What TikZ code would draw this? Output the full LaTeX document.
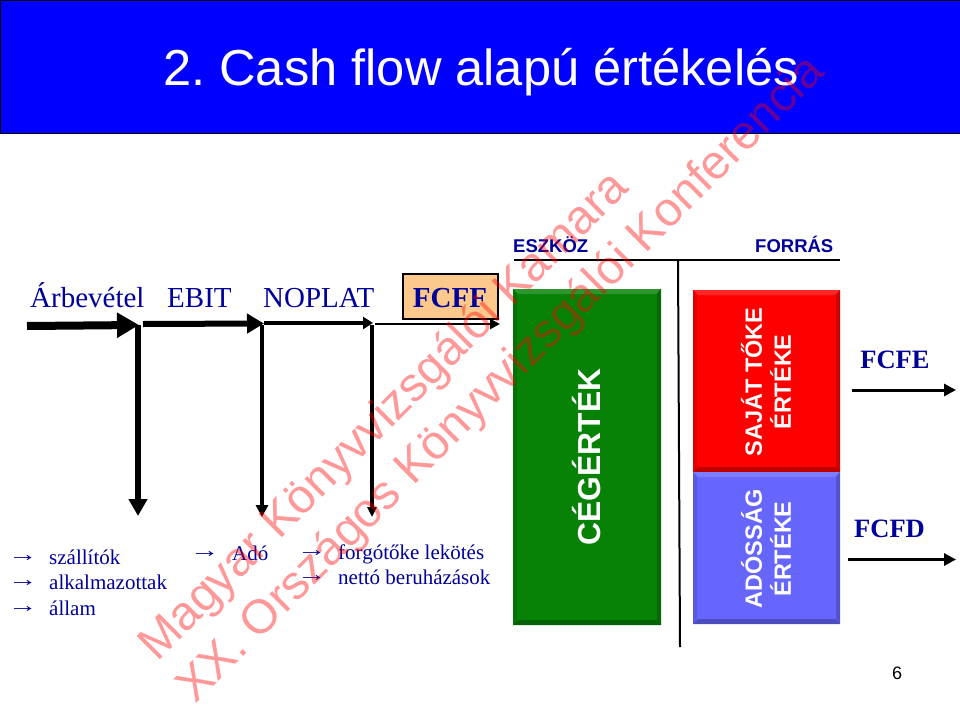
\documentclass[tikz,border=0pt]{standalone}
\usepackage{graphicx}
\usepackage{fontspec}
\frenchspacing
\setmainfont{Liberation Serif}
\setsansfont{Liberation Sans}
\usetikzlibrary{arrows.meta}
\definecolor{navy}{HTML}{000099}
\definecolor{peach}{HTML}{FCC88C}
\definecolor{gr}{HTML}{078207}
\definecolor{bl}{HTML}{6666FF}
\definecolor{rd}{HTML}{FF0000}
\newcommand{\rarr}{\raisebox{3pt}{\scalebox{1.4}[1]{→}}}
\tikzset{
  lab/.style={anchor=base west,text=navy,inner sep=0pt,font=\fontsize{29}{31}\selectfont},
  bfl/.style={anchor=center,text=navy,inner sep=0pt,font=\fontsize{26.5}{28}\selectfont\bfseries},
  item/.style={anchor=base west,text=navy,inner sep=0pt,font=\fontsize{21}{24}\selectfont},
  head/.style={anchor=base west,text=navy,inner sep=0pt,font=\sffamily\bfseries\fontsize{18.5}{20}\selectfont},
  vert/.style={rotate=90,anchor=center,align=center,text=white,inner sep=0pt,font=\sffamily\bfseries\fontsize{23.5}{29}\selectfont},
  wm/.style={rotate=45,anchor=base west,inner sep=0pt,text=red,text opacity=.4,font=\sffamily\fontsize{47.8}{50}\selectfont},
  flow/.style={draw=black,line cap=butt}
}
\newcommand{\bevelbox}[6]{% x1 y1 x2 y2 fill name
  \fill[#5] (#1,#2) rectangle (#3,#4);
  \fill[#5!85!white] (#1,#2) -- (#3,#2) -- (#3-5,#2+5) -- (#1+5,#2+5) -- cycle;
  \fill[#5!75!black] (#1,#4) -- (#3,#4) -- (#3-5,#4-5) -- (#1+5,#4-5) -- cycle;
  \fill[#5!88!black] (#1,#2) -- (#1+4,#2+5) -- (#1+4,#4-5) -- (#1,#4) -- cycle;
  \fill[#5!80!black] (#3,#2) -- (#3-4,#2+5) -- (#3-4,#4-5) -- (#3,#4) -- cycle;
  \coordinate (#6) at ({(#1+#3)/2},{(#2+#4)/2});
}
\begin{document}
\begin{tikzpicture}[x=1pt,y=-1pt]
\useasboundingbox (0,0) rectangle (960,709);
\fill[white] (0,0) rectangle (960,709);
% title band
\node[draw=black,line width=.8pt,fill=blue,minimum width=960pt,minimum height=133pt,inner sep=0pt,anchor=north west] (band) at (0,0) {};
\node[anchor=base west,text=white,inner sep=0pt,font=\sffamily\fontsize{50.6}{52}\selectfont] (title) at (163,85) {2. Cash flow alapú értékelés};
% flow labels
\node[lab] (arb) at (30,307) {Árbevétel};
\node[lab] (ebit) at (167,307) {EBIT};
\node[lab] (nop) at (263,307) {NOPLAT};
\node[draw=black,line width=1.2pt,fill=peach,minimum width=95pt,minimum height=45pt,inner sep=0pt] (fcffbox) at (450.5,296.5) {};
\node[bfl,font=\fontsize{29}{31}\selectfont\bfseries] (fcff) at (450,298) {FCFF};
% flow coordinates
\coordinate (a0) at (27,326);
\coordinate (a1) at (139,325);
\coordinate (b0) at (143,324);
\coordinate (b1) at (264,323.5);
\coordinate (c0) at (264,323);
\coordinate (c1) at (373,323);
\coordinate (d0) at (375,324);
\coordinate (d1) at (500,324);
\coordinate (e0) at (138,325);
\coordinate (e1) at (138,516);
\coordinate (f0) at (262,325);
\coordinate (f1) at (262,517);
\coordinate (g0) at (372,325);
\coordinate (g1) at (372,517);
\draw[flow,line width=8pt,-{Triangle[length=22pt,width=24pt]}] (a0) -- (a1);
\draw[flow,line width=6pt,-{Triangle[length=17pt,width=19pt]}] (b0) -- (b1);
\draw[flow,line width=4pt,-{Triangle[length=10pt,width=12pt]}] (c0) -- (c1);
\draw[flow,line width=2.5pt,-{Triangle[length=10pt,width=10pt]}] (d0) -- (d1);
\draw[flow,line width=5.5pt,-{Triangle[length=17pt,width=18pt]}] (e0) -- (e1);
\draw[flow,line width=4.5pt,-{Triangle[length=12pt,width=12pt]}] (f0) -- (f1);
\draw[flow,line width=3.5pt,-{Triangle[length=10pt,width=9pt]}] (g0) -- (g1);
% lists
\node[item] (ar1) at (8,564) {\rarr};
\node[item] (t1) at (49,564) {szállítók};
\node[item] (ar2) at (8,589) {\rarr};
\node[item] (t2) at (49,589) {alkalmazottak};
\node[item] (ar3) at (8,615) {\rarr};
\node[item] (t3) at (49,615) {állam};
\node[item] (ar4) at (190,560) {\rarr};
\node[item] (t4) at (232,560) {Adó};
\node[item] (ar5) at (297,559) {\rarr};
\node[item] (t5) at (338,559) {forgótőke lekötés};
\node[item] (ar6) at (297,584) {\rarr};
\node[item] (t6) at (338,584) {nettó beruházások};
% balance sheet
\node[head] (esz) at (513,252) {ESZKÖZ};
\node[head] (forr) at (755,252) {FORRÁS};
\coordinate (tl) at (514,260);
\coordinate (tr) at (840,260);
\coordinate (vt) at (678,260);
\coordinate (vb) at (680,647);
\draw[line width=1.8pt] (tl) -- (tr);
\draw[line width=2pt] (vt) -- (vb);
\bevelbox{513}{289}{661}{625}{gr}{gc}
\bevelbox{693}{290}{840}{472}{rd}{rc}
\bevelbox{693}{472}{840}{624}{bl}{bc}
\node[vert,font=\sffamily\bfseries\fontsize{31.8}{33}\selectfont] (ceg) at (587,457) {CÉGÉRTÉK};
\node[vert] (saj) at (766,382) {SAJÁT TŐKE\\ÉRTÉKE};
\node[vert] (ado) at (766,549) {ADÓSSÁG\\ÉRTÉKE};
% right labels
\node[bfl] (fcfe) at (895,360) {FCFE};
\node[bfl] (fcfd) at (889.5,529) {FCFD};
\coordinate (h0) at (852,390);
\coordinate (h1) at (956,390);
\coordinate (k0) at (848,559.5);
\coordinate (k1) at (956,559.5);
\draw[flow,line width=3pt,-{Triangle[length=12pt,width=12pt]}] (h0) -- (h1);
\draw[flow,line width=3pt,-{Triangle[length=12pt,width=12pt]}] (k0) -- (k1);
\node[inner sep=0pt,anchor=base,font=\sffamily\fontsize{18}{20}\selectfont] (pg) at (897,679) {6};
% watermark
\node[wm] (w1) at (157,663) {Magyar Könyvvizsgálói Kamara};
\node[wm] (w2) at (195,705) {XX. Országos Könyvvizsgálói Konferencia};
\end{tikzpicture}
\end{document}
